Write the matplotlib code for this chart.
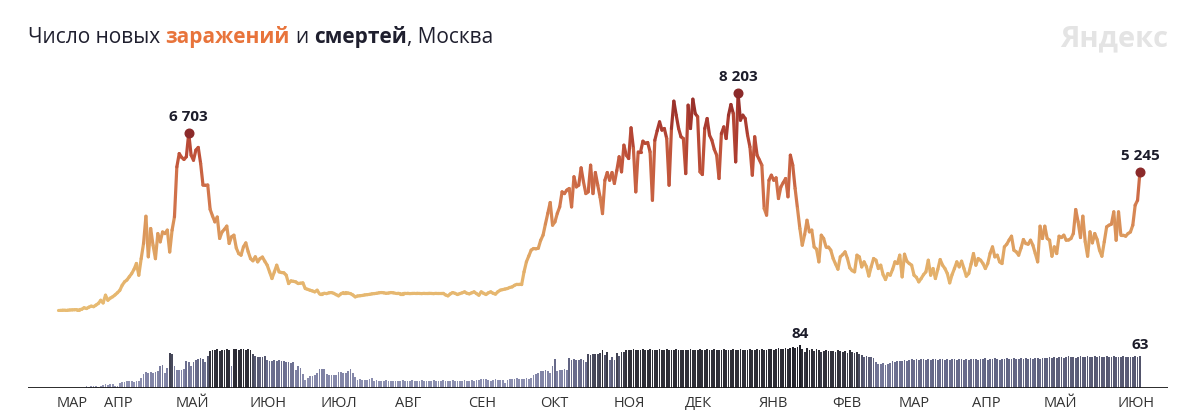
import numpy as np
import matplotlib
matplotlib.use("Agg")
import matplotlib.pyplot as plt
import matplotlib.dates as mdates
import matplotlib.transforms as mtransforms
from matplotlib.collections import LineCollection
from matplotlib.colors import LinearSegmentedColormap, Normalize

plt.rcParams['font.family'] = ['Open Sans', 'DejaVu Sans']

START = '2020-03-12'

# ---- daily new cases, Moscow ----
cases_2020_03 = [60, 60, 65, 70, 70, 75, 80, 85, 90, 90, 100, 160, 130, 180, 220, 200, 260, 320, 440, 340]
cases_2020_04 = [630, 440, 520, 570, 640, 720, 810, 1000, 1130, 1200, 1320, 1440, 1600, 1820, 1380, 2000, 2570, 3590, 2070, 3130,
                 2500, 2000, 2940, 2630, 3000, 2940, 3070, 2250, 3070, 3570]
cases_2020_05 = [5440, 5940, 5800, 5720, 5820, 6703, 5880, 5690, 6070, 6170, 5570, 4760, 4750, 4760, 3850, 3600, 3380, 3560, 2760, 3000,
                 3100, 3220, 2570, 2820, 2880, 2400, 2190, 2130, 2440, 2590, 2260]
cases_2020_06 = [2000, 1920, 2070, 1880, 2005, 2060, 1900, 1755, 1500, 1255, 1500, 1755, 1505, 1480, 1470, 1380, 1067, 1167, 1150, 1130,
                 1067, 1080, 1092, 880, 850, 817, 790, 755, 817, 680]
cases_2020_07 = [680, 700, 690, 720, 730, 700, 650, 605, 680, 730, 730, 710, 690, 640, 567, 600, 610, 620, 640, 650,
                 660, 680, 690, 700, 720, 730, 720, 700, 710, 730, 720]
cases_2020_08 = [700, 700, 690, 690, 700, 700, 690, 695, 700, 700, 695, 690, 700, 700, 700, 695, 690, 700, 700, 700,
                 700, 640, 605, 680, 730, 700, 655, 690, 720, 755, 700]
cases_2020_09 = [680, 720, 755, 690, 630, 755, 700, 655, 720, 755, 700, 670, 760, 818, 840, 860, 880, 920, 942, 1000,
                 1040, 1040, 1030, 1505, 1880, 2100, 2320, 2380, 2370, 2390]
cases_2020_10 = [2690, 2880, 3300, 3700, 4105, 3255, 3380, 3700, 3940, 4505, 4440, 4570, 4630, 3940, 5070, 4690, 4755, 5405, 4880, 4440,
                 4505, 5505, 4440, 5230, 4755, 4300, 3690, 4940, 5230, 4940, 5230]
cases_2020_11 = [4820, 5300, 5820, 5255, 6255, 5880, 5755, 6905, 6130, 4505, 6005, 6005, 6405, 6320, 6355, 6005, 4190, 6440, 6800, 7130,
                 6820, 6880, 6505, 4755, 6880, 7905, 7380, 6880, 6570, 6505]
cases_2020_12 = [5190, 7755, 6880, 7980, 7440, 7320, 5255, 5155, 6880, 7255, 6630, 6440, 6100, 5880, 5005, 6690, 6940, 6505, 7380, 7780,
                 7440, 5630, 8203, 7190, 7380, 7255, 6630, 6190, 5130, 6570, 5880]
cases_2021_01 = [5700, 5505, 3880, 3630, 4940, 5130, 4940, 5030, 4255, 4690, 4850, 5005, 4320, 5880, 5505, 4630, 3880, 3130, 2505, 2900,
                 3440, 3005, 3070, 2440, 2355, 1880, 2880, 2755, 2440, 2440, 2317]
cases_2021_02 = [2005, 1800, 1605, 2067, 2150, 2255, 2005, 1655, 1550, 1505, 2130, 2067, 1690, 1880, 1700, 1350, 1700, 2005, 1942, 1630,
                 1755, 1400, 1217, 1442, 1380, 1600, 1880, 1817]
cases_2021_03 = [2130, 1317, 2167, 1900, 1817, 1755, 1380, 1300, 1130, 1255, 1400, 1505, 1942, 1380, 1630, 1255, 1600, 1967, 1755, 1630,
                 1442, 1092, 1400, 1630, 1880, 1692, 1905, 1630, 1342, 1442, 1800]
cases_2021_04 = [2192, 1755, 2005, 1942, 1817, 1630, 1817, 2200, 2442, 2067, 2130, 1880, 1817, 2442, 2542, 2700, 2842, 2317, 2255, 2130,
                 2400, 2717, 2567, 2542, 2692, 2500, 2192, 1880, 3217, 2755]
cases_2021_05 = [3217, 2755, 2692, 2092, 2442, 2192, 2842, 2792, 2880, 2692, 2700, 2755, 2942, 3842, 3380, 2792, 3592, 2630, 2092, 3005,
                 2592, 2942, 2717, 2317, 2092, 2630, 3192, 3255, 3292, 3755, 2692]
cases_2021_06 = [3755, 2880, 2880, 2842, 2942, 3000, 3255, 4005, 4190, 5245]

# ---- daily deaths, Moscow ----
deaths_2020_03 = [0, 0, 0, 0, 0, 0, 0, 0, 0, 0, 0, 0, 3, 2, 3, 4, 3, 2, 4, 5]
deaths_2020_04 = [7, 6, 7, 8, 4, 3, 9, 11, 12, 13, 14, 13, 12, 14, 13, 20, 28, 31, 30, 32,
                  30, 31, 34, 42, 45, 29, 40, 68, 66, 42]
deaths_2020_05 = [36, 36, 35, 38, 53, 50, 42, 51, 55, 57, 58, 57, 51, 62, 73, 75, 74, 76, 73, 75,
                  74, 76, 75, 43, 76, 77, 75, 76, 77, 75, 76]
deaths_2020_06 = [75, 66, 62, 61, 60, 61, 62, 54, 53, 52, 55, 53, 54, 52, 53, 50, 51, 49, 50, 36,
                  42, 40, 27, 15, 19, 23, 24, 25, 30, 38]
deaths_2020_07 = [38, 37, 27, 26, 25, 25, 26, 32, 31, 30, 29, 33, 38, 29, 22, 16, 17, 16, 15, 16,
                  17, 19, 14, 15, 14, 13, 14, 15, 14, 13, 14]
deaths_2020_08 = [14, 13, 14, 15, 14, 13, 14, 15, 14, 13, 14, 15, 14, 14, 13, 14, 15, 14, 13, 14,
                  15, 14, 13, 14, 15, 14, 13, 14, 14, 15, 14]
deaths_2020_09 = [14, 15, 14, 15, 16, 17, 18, 17, 15, 14, 16, 17, 16, 15, 16, 10, 15, 18, 17, 18,
                  19, 18, 17, 18, 19, 18, 20, 25, 28, 30]
deaths_2020_10 = [33, 34, 35, 34, 29, 42, 56, 34, 35, 36, 37, 36, 58, 55, 56, 55, 54, 56, 55, 51,
                  66, 65, 66, 67, 66, 68, 75, 64, 70, 55, 60]
deaths_2020_11 = [55, 68, 62, 70, 70, 74, 75, 74, 76, 75, 74, 75, 76, 74, 75, 76, 75, 74, 75, 76,
                  75, 74, 76, 75, 74, 75, 76, 75, 74, 75]
deaths_2020_12 = [75, 74, 76, 75, 74, 75, 76, 74, 75, 76, 75, 74, 76, 75, 74, 75, 76, 75, 74, 75,
                  76, 75, 74, 76, 75, 74, 75, 76, 74, 75, 76]
deaths_2021_01 = [75, 76, 74, 75, 76, 77, 75, 76, 78, 76, 77, 78, 76, 79, 81, 78, 80, 84, 76, 71,
                  78, 74, 76, 72, 76, 75, 70, 73, 74, 72, 73]
deaths_2021_02 = [73, 70, 74, 72, 71, 73, 69, 74, 70, 68, 71, 66, 64, 60, 62, 61, 60, 58, 50, 47,
                  46, 48, 45, 47, 49, 52, 51, 53]
deaths_2021_03 = [52, 53, 54, 52, 55, 56, 54, 56, 55, 57, 56, 54, 56, 55, 57, 56, 55, 56, 57, 55,
                  56, 54, 56, 57, 55, 56, 57, 55, 56, 54, 57]
deaths_2021_04 = [56, 57, 55, 57, 56, 58, 55, 57, 56, 58, 57, 55, 57, 56, 58, 57, 56, 58, 57, 56,
                  58, 57, 59, 57, 58, 56, 58, 59, 57, 58]
deaths_2021_05 = [59, 58, 60, 59, 61, 59, 60, 61, 59, 60, 62, 60, 61, 59, 61, 62, 60, 61, 62, 60,
                  61, 62, 60, 62, 61, 60, 62, 61, 60, 62, 61]
deaths_2021_06 = [60, 61, 62, 60, 61, 60, 61, 62, 61, 63]

month_labels = ['МАР', 'АПР', 'МАЙ', 'ИЮН', 'ИЮЛ', 'АВГ', 'СЕН', 'ОКТ', 'НОЯ', 'ДЕК',
                'ЯНВ', 'ФЕВ', 'МАР', 'АПР', 'МАЙ', 'ИЮН']
month_dates = ['2020-03-12', '2020-04-01', '2020-05-01', '2020-06-01', '2020-07-01', '2020-08-01',
               '2020-09-01', '2020-10-01', '2020-11-01', '2020-12-01', '2021-01-01', '2021-02-01',
               '2021-03-01', '2021-04-01', '2021-05-01', '2021-06-01']

cases = np.array(cases_2020_03 + cases_2020_04 + cases_2020_05 + cases_2020_06 + cases_2020_07 +
                 cases_2020_08 + cases_2020_09 + cases_2020_10 + cases_2020_11 + cases_2020_12 +
                 cases_2021_01 + cases_2021_02 + cases_2021_03 + cases_2021_04 + cases_2021_05 +
                 cases_2021_06, dtype=float)
deaths = np.array(deaths_2020_03 + deaths_2020_04 + deaths_2020_05 + deaths_2020_06 + deaths_2020_07 +
                  deaths_2020_08 + deaths_2020_09 + deaths_2020_10 + deaths_2020_11 + deaths_2020_12 +
                  deaths_2021_01 + deaths_2021_02 + deaths_2021_03 + deaths_2021_04 + deaths_2021_05 +
                  deaths_2021_06, dtype=float)
n = min(len(cases), len(deaths))
cases = cases[:n]
deaths = deaths[:n]
dates = np.datetime64(START) + np.arange(n)
x = mdates.date2num(dates)

# ---- figure ----
W, H = 1200, 416
fig = plt.figure(figsize=(W / 100, H / 100), dpi=100)
L, R = 28, 1168
base = mdates.date2num(np.datetime64('2020-04-01'))
pxday = 2.378
xmin = base + (L - 105.5) / pxday
xmax = base + (R - 105.5) / pxday

# line axes: zero at y=312px, 0.02667 px per case
y0_line, ytop_line = 312, 60
ax = fig.add_axes([L / W, (H - y0_line) / H, (R - L) / W, (y0_line - ytop_line) / H])
ax.set_xlim(xmin, xmax)
ax.set_ylim(0, (y0_line - ytop_line) / 0.02667)
ax.axis('off')

cmap_c = LinearSegmentedColormap.from_list('cases', [
    (0.0, '#e8bd74'), (1500 / 8203, '#e4b16b'), (3000 / 8203, '#dc985c'),
    (4500 / 8203, '#d0714a'), (6000 / 8203, '#bf5139'), (7000 / 8203, '#aa3b30'),
    (1.0, '#8e2b28')])
norm_c = Normalize(0, 8203)
pts = np.column_stack([x, cases])
segs = np.stack([pts[:-1], pts[1:]], axis=1)
seg_vals = (cases[:-1] + cases[1:]) / 2
lc = LineCollection(segs, colors=cmap_c(norm_c(seg_vals)), linewidths=2.3,
                    capstyle='round', joinstyle='round')
ax.add_collection(lc)

peak_idx = [int(np.argmax(cases[:120])), int(np.argmax(cases)), n - 1]
for i in peak_idx:
    ax.plot(x[i], cases[i], 'o', color='#8b2a2a', ms=6.2, zorder=5, clip_on=False)
    lab = f"{int(cases[i]):,}".replace(',', ' ')
    ax.annotate(lab, (x[i], cases[i]), xytext=(0, 9), textcoords='offset pixels',
                ha='center', va='bottom', fontsize=11, fontweight='bold', color='#1c1c2a',
                annotation_clip=False)

# bar axes: baseline at 388px, 0.512 px per death
y0_bar, ytop_bar = 388, 320
axb = fig.add_axes([L / W, (H - y0_bar) / H, (R - L) / W, (y0_bar - ytop_bar) / H])
axb.set_xlim(xmin, xmax)
axb.set_ylim(0, (y0_bar - ytop_bar) / 0.512)
axb.axis('off')
cmap_d = LinearSegmentedColormap.from_list('deaths', [
    (0.0, '#9699b8'), (15 / 84, '#8c8fb0'), (40 / 84, '#7d80a2'), (56 / 84, '#676a8a'),
    (64 / 84, '#505268'), (72 / 84, '#34343e'), (1.0, '#1c1c24')])
axb.bar(x, deaths, width=0.74, color=cmap_d(np.clip(deaths / 84, 0, 1)), linewidth=0, align='center')
axb.axhline(0, color='#1a1a1a', lw=1.3, xmin=0, xmax=1)

for i in [int(np.argmax(deaths)), n - 1]:
    axb.annotate(f"{int(deaths[i])}", (x[i], deaths[i]), xytext=(0, 4), textcoords='offset pixels',
                 ha='center', va='bottom', fontsize=11, fontweight='bold', color='#1c1c2a',
                 annotation_clip=False)

for lab, d in zip(month_labels, month_dates):
    xd = mdates.date2num(np.datetime64(d))
    axb.annotate(lab, (xd, 0), xytext=(-1, -19), textcoords='offset pixels',
                 ha='left', va='baseline', fontsize=10.5, color='#333333', annotation_clip=False)

# ---- title with mixed styles ----
renderer = fig.canvas.get_renderer()
pix = mtransforms.IdentityTransform()
pieces = [('Число новых', '#1f1f2e', 'normal'), ('заражений', '#e8743b', 'bold'),
          ('и', '#1f1f2e', 'normal'), ('смертей', '#1f1f2e', 'bold'), (', Москва', '#1f1f2e', 'normal')]
tmp = fig.text(0, 0, 'a a', fontsize=15)
w2 = tmp.get_window_extent(renderer).width
tmp.set_text('aa')
w1 = tmp.get_window_extent(renderer).width
tmp.remove()
space = w2 - w1
cx = L
ty = H - 43
for k, (txt, col, wt) in enumerate(pieces):
    if k > 0 and not txt.startswith(','):
        cx += space
    t = fig.text(cx, ty, txt, color=col, fontweight=wt, fontsize=15, transform=pix,
                 ha='left', va='baseline')
    cx += t.get_window_extent(renderer).width

fig.text(R, H - 46, 'Яндекс', color='#e4e4e4', fontweight='bold', fontsize=21,
         transform=pix, ha='right', va='baseline')

fig.savefig('out.png', dpi=100)
